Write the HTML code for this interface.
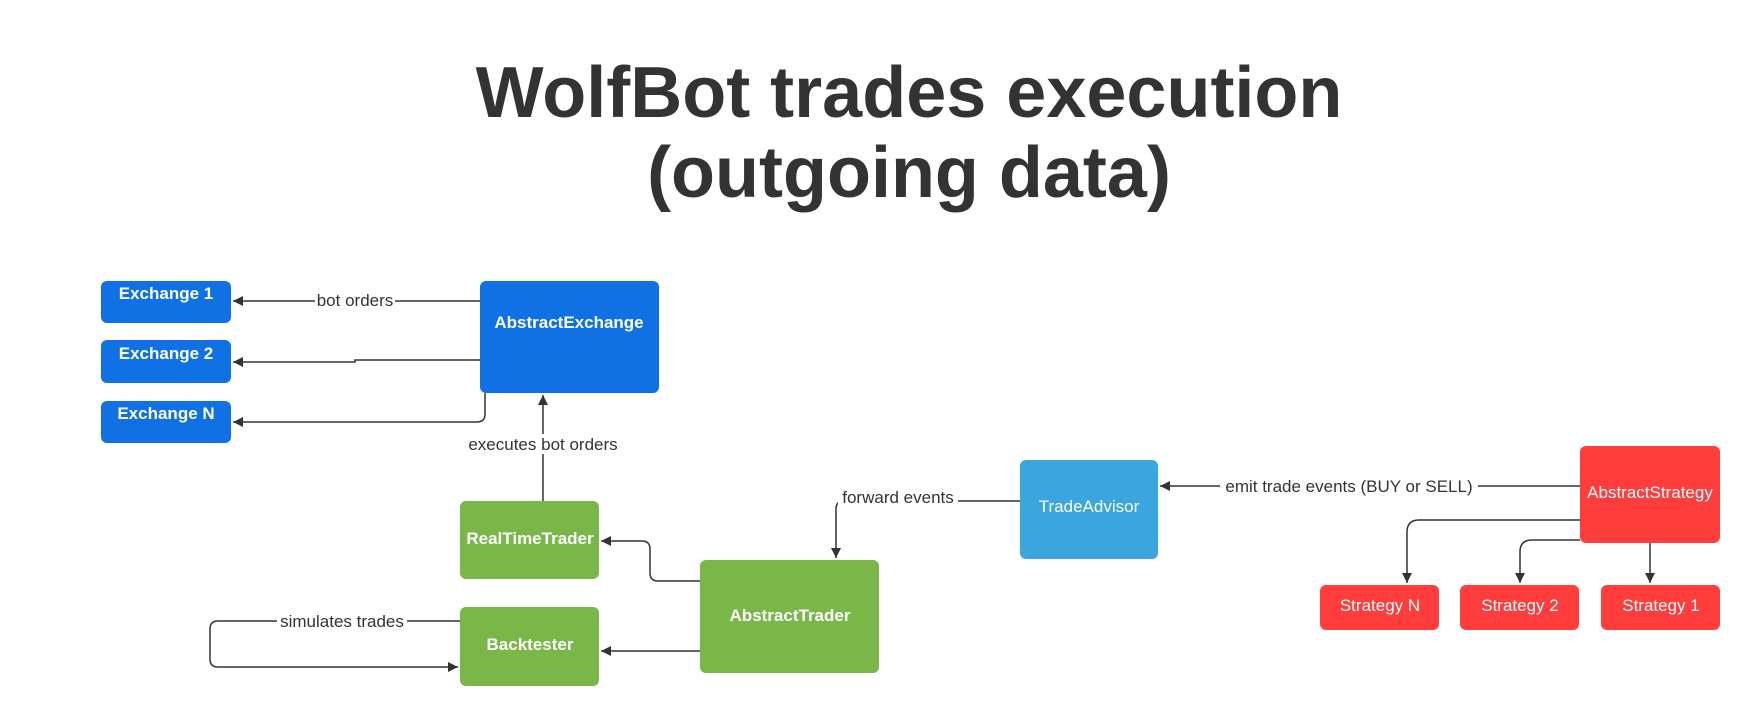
<!DOCTYPE html>
<html><head><meta charset="utf-8"><style>
html,body{margin:0;padding:0;background:#fff;}
svg{display:block;}
text{font-family:"Liberation Sans",Arial,sans-serif;}
</style></head><body>
<svg width="1760" height="726" viewBox="0 0 1760 726" xmlns="http://www.w3.org/2000/svg">
<defs>
<marker id="a" viewBox="0 0 10 10" refX="10" refY="5" markerWidth="10" markerHeight="10" markerUnits="userSpaceOnUse" orient="auto">
<path d="M0,0 L10,5 L0,10 z" fill="#333"/></marker>
</defs>
<text x="909" y="117" font-size="72" font-weight="bold" fill="#333" text-anchor="middle">WolfBot trades execution</text>
<text x="909" y="197" font-size="72" font-weight="bold" fill="#333" text-anchor="middle">(outgoing data)</text>

<g fill="none" stroke="#333" stroke-width="1.5">
<path d="M480,301 H233" marker-end="url(#a)"/>
<path d="M480,360 H355 V362 H233" marker-end="url(#a)"/>
<path d="M485,393 V414 Q485,422 477,422 H233" marker-end="url(#a)"/>
<path d="M543,501 V395" marker-end="url(#a)"/>
<path d="M700,581 H658 Q650,581 650,573 V549 Q650,541 642,541 H601" marker-end="url(#a)"/>
<path d="M700,651 H601" marker-end="url(#a)"/>
<path d="M460,621 H218 Q210,621 210,629 V659 Q210,667 218,667 H458" marker-end="url(#a)"/>
<path d="M1020,501 H844 Q836,501 836,509 V558" marker-end="url(#a)"/>
<path d="M1580,486 H1160" marker-end="url(#a)"/>
<path d="M1580,520 H1419 Q1407,520 1407,532 V583" marker-end="url(#a)"/>
<path d="M1580,540 H1532 Q1520,540 1520,552 V583" marker-end="url(#a)"/>
<path d="M1650,543 V583" marker-end="url(#a)"/>
</g>
<g font-size="17" fill="#333" text-anchor="middle">
<rect x="315" y="290" width="80" height="20" fill="#fff"/><text x="355" y="306">bot orders</text>
<rect x="463" y="434" width="160" height="20" fill="#fff"/><text x="543" y="450">executes bot orders</text>
<rect x="277" y="611" width="130" height="20" fill="#fff"/><text x="342" y="627">simulates trades</text>
<rect x="838" y="488" width="120" height="20" fill="#fff"/><text x="898" y="503">forward events</text>
<rect x="1220" y="476" width="258" height="20" fill="#fff"/><text x="1349" y="492">emit trade events (BUY or SELL)</text>
</g>

<g fill="#1071e5">
<rect x="101" y="281" width="130" height="42" rx="6"/>
<rect x="101" y="340" width="130" height="43" rx="6"/>
<rect x="101" y="401" width="130" height="42" rx="6"/>
<rect x="480" y="281" width="179" height="112" rx="6"/>
</g>
<g fill="#7ab648">
<rect x="460" y="501" width="139" height="78" rx="6"/>
<rect x="460" y="607" width="139" height="79" rx="6"/>
<rect x="700" y="560" width="179" height="113" rx="6"/>
</g>
<rect x="1020" y="460" width="138" height="99" rx="6" fill="#3aa6dd"/>
<g fill="#ff3d3d">
<rect x="1580" y="446" width="140" height="97" rx="6"/>
<rect x="1320" y="585" width="119" height="45" rx="6"/>
<rect x="1460" y="585" width="119" height="45" rx="6"/>
<rect x="1601" y="585" width="119" height="45" rx="6"/>
</g>
<g font-size="17" fill="#fff" text-anchor="middle" font-weight="bold">
<text x="166" y="299">Exchange 1</text>
<text x="166" y="359">Exchange 2</text>
<text x="166" y="419">Exchange N</text>
<text x="569" y="328">AbstractExchange</text>
<text x="530" y="544">RealTimeTrader</text>
<text x="530" y="650">Backtester</text>
<text x="790" y="621">AbstractTrader</text>
</g>
<g font-size="17" fill="#fff" text-anchor="middle">
<text x="1089" y="512">TradeAdvisor</text>
<text x="1650" y="498">AbstractStrategy</text>
<text x="1380" y="611">Strategy N</text>
<text x="1520" y="611">Strategy 2</text>
<text x="1661" y="611">Strategy 1</text>
</g>
</svg>
</body></html>
